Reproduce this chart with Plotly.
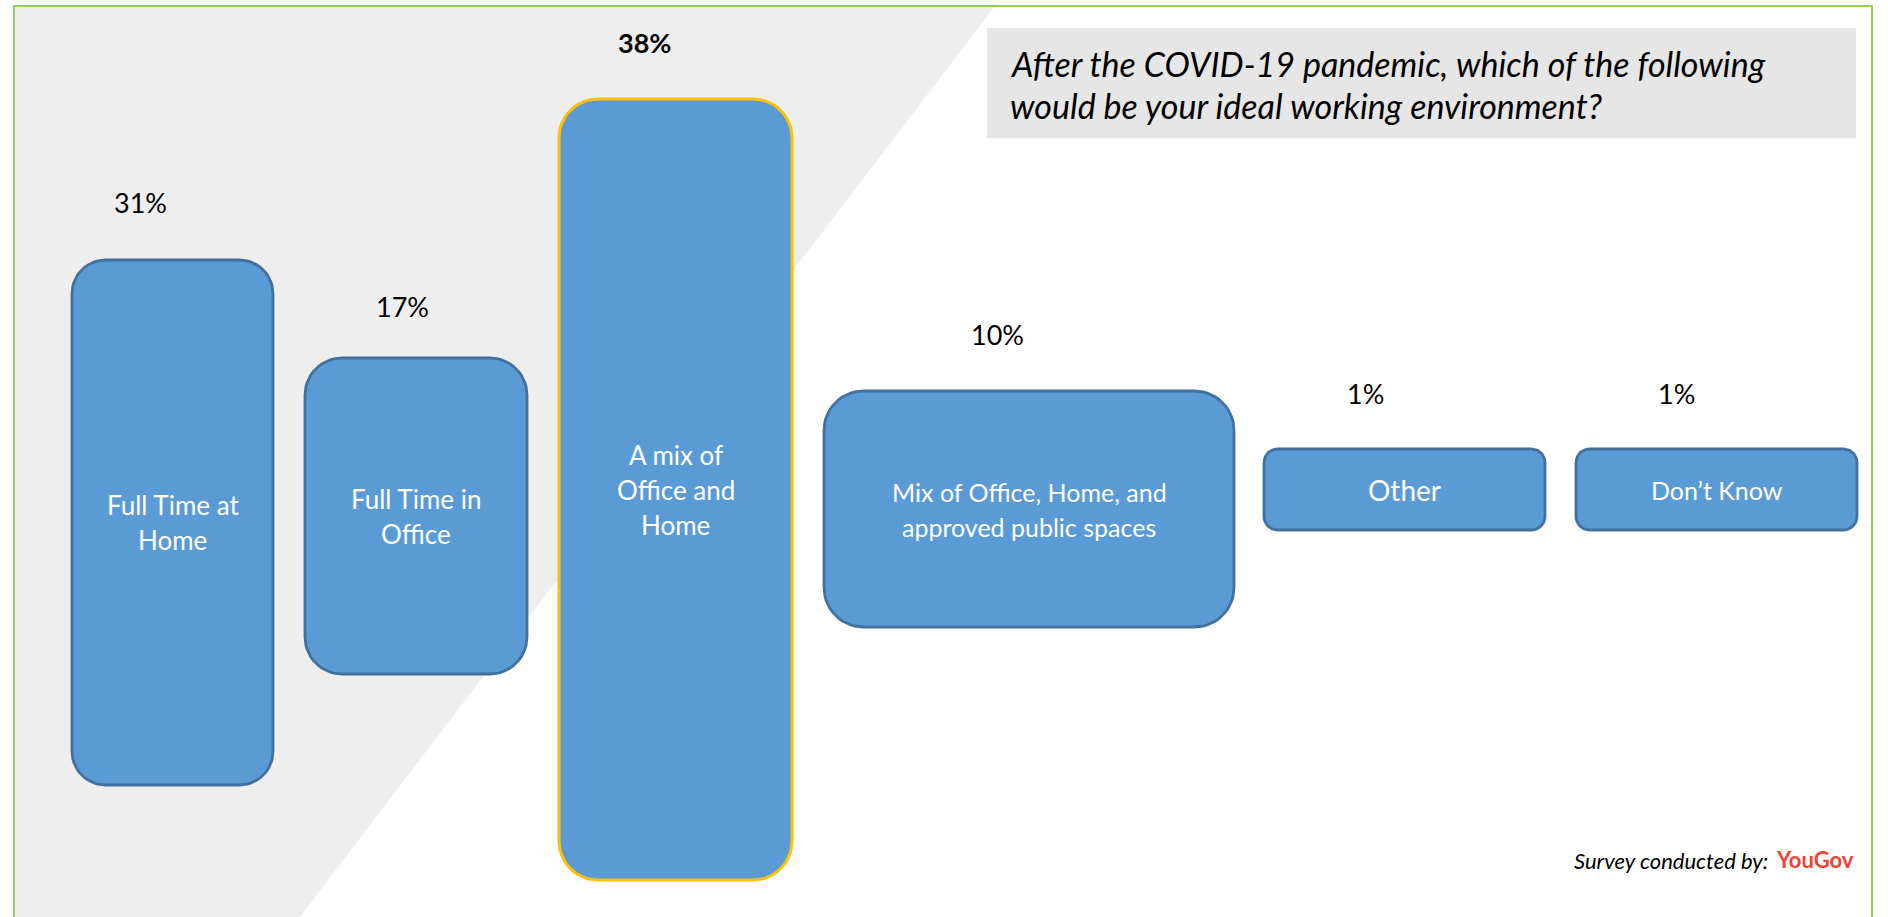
import math
import plotly.graph_objects as go

# ---------------- data ----------------
categories = [
    "Full Time at<br>Home",
    "Full Time in<br>Office",
    "A mix of<br>Office and<br>Home",
    "Mix of Office, Home, and<br>approved public spaces",
    "Other",
    "Don’t Know",
]
values = [31, 17, 38, 10, 1, 1]
value_labels = [f"{v}%" for v in values]
highlight = [False, False, True, False, False, False]

title_lines = ["After the COVID-19 pandemic, which of the following",
               "would be your ideal working environment?"]
source_text = "Survey conducted by:"
source_brand = "YouGov"

# ---------------- layout (pixel-space geometry of the infographic) ----------------
W, H = 1888, 917
box_x0 = [72, 305, 559, 824, 1264, 1576]
box_x1 = [273, 527, 792, 1234, 1545, 1857]
box_y0 = [260, 358, 99, 391, 449, 449]
box_y1 = [785, 674, 880, 627, 530, 530]
value_label_x = [140, 402, 644, 997, 1365, 1676]
value_label_y = [202, 306, 42, 334, 393, 393]
text_sizes = [26, 26, 26, 25, 28, 25]

FILL = "#5B9BD5"
EDGE = "#41719C"
GOLD = "#FFC000"
FONT = "Lato"


def rounded_rect(x0, x1, y0, y1, r, n=14):
    xs, ys = [], []
    corners = [
        (x1 - r, y0 + r, -90, 0),    # top-right
        (x1 - r, y1 - r, 0, 90),     # bottom-right
        (x0 + r, y1 - r, 90, 180),   # bottom-left
        (x0 + r, y0 + r, 180, 270),  # top-left
    ]
    for cx, cy, a0, a1 in corners:
        for i in range(n + 1):
            a = math.radians(a0 + (a1 - a0) * i / n)
            xs.append(cx + r * math.cos(a))
            ys.append(cy + r * math.sin(a))
    xs.append(xs[0])
    ys.append(ys[0])
    return xs, ys


fig = go.Figure()

# background decorations
shapes = [
    dict(type="path", path=f"M 14,6 L 995,6 L 296,{H+5} L 14,{H+5} Z",
         fillcolor="#EEEEEE", line=dict(width=0), layer="below",
         xref="x", yref="y"),
    dict(type="rect", x0=987, x1=1856, y0=28, y1=138, fillcolor="#E6E6E6",
         line=dict(width=0), layer="below", xref="x", yref="y"),
    dict(type="rect", x0=14, x1=1872, y0=6, y1=H + 20, fillcolor="rgba(0,0,0,0)",
         line=dict(color="#92D050", width=2), layer="above", xref="x", yref="y"),
]

annotations = []
for i, cat in enumerate(categories):
    x0, x1, y0, y1 = box_x0[i], box_x1[i], box_y0[i], box_y1[i]
    r = min(x1 - x0, y1 - y0) / 6.0
    xs, ys = rounded_rect(x0, x1, y0, y1, r)
    fig.add_trace(go.Scatter(
        x=xs, y=ys, mode="lines", fill="toself", fillcolor=FILL,
        line=dict(color=GOLD if highlight[i] else EDGE, width=3 if highlight[i] else 2.8),
        hoverinfo="skip", showlegend=False,
    ))
    # category text, one annotation per line for PowerPoint-like spacing
    lines = cat.split("<br>")
    spacing = 35
    cy = (y0 + y1) / 2
    for j, ln in enumerate(lines):
        yy = cy + (j - (len(lines) - 1) / 2) * spacing
        annotations.append(dict(
            x=(x0 + x1) / 2, y=yy, xref="x", yref="y", text=ln, showarrow=False,
            font=dict(family=FONT, size=text_sizes[i], color="white"),
            xanchor="center", yanchor="middle"))
    lbl = f"<b>{value_labels[i]}</b>" if highlight[i] else value_labels[i]
    annotations.append(dict(
        x=value_label_x[i], y=value_label_y[i], xref="x", yref="y", text=lbl,
        showarrow=False, font=dict(family=FONT, size=27, color="black"),
        xanchor="center", yanchor="middle"))

# title
for j, t in enumerate(title_lines):
    annotations.append(dict(
        x=1008, y=63 + j * 42, xref="x", yref="y", text=f"<i>{t}</i>",
        showarrow=False, font=dict(family=FONT, size=34, color="black"),
        xanchor="left", yanchor="middle"))

# source
annotations.append(dict(
    x=1770, y=860, xref="x", yref="y", text=f"<i>{source_text}</i>", showarrow=False,
    font=dict(family=FONT, size=22, color="black"), xanchor="right", yanchor="middle"))
annotations.append(dict(
    x=1774, y=859, xref="x", yref="y", text=f"<b>{source_brand}</b>", showarrow=False,
    font=dict(family=FONT, size=22, color="#EF4135"), xanchor="left", yanchor="middle"))

fig.update_layout(
    width=W, height=H,
    margin=dict(l=0, r=0, t=0, b=0),
    paper_bgcolor="white", plot_bgcolor="white",
    xaxis=dict(range=[0, W], visible=False, fixedrange=True),
    yaxis=dict(range=[H, 0], visible=False, fixedrange=True),
    shapes=shapes, annotations=annotations,
    hovermode=False,
)

fig.write_html(
    "out.html",
    config={"displayModeBar": False},
    post_script="document.body.style.margin='0';document.body.style.overflow='hidden';",
)
